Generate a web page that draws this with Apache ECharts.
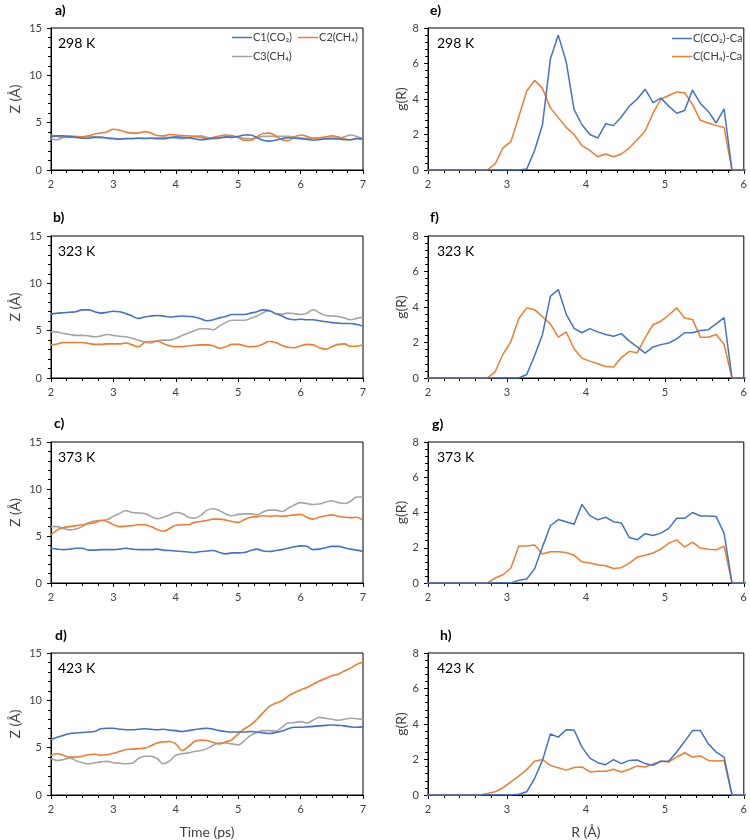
<!DOCTYPE html>
<html><head><meta charset="utf-8">
<script src="https://cdn.jsdelivr.net/npm/echarts@6/dist/echarts.min.js"></script>
<style>html,body{margin:0;padding:0;background:#fff}#c{width:750px;height:840px}</style>
</head><body><div id="c"></div>
<script>
// ---------- DATA ----------
const time = [2.0,2.1,2.2,2.3,2.4,2.5,2.6,2.7,2.8,2.9,3.0,3.1,3.2,3.3,3.4,3.5,3.6,3.7,3.8,3.9,4.0,4.1,4.2,4.3,4.4,4.5,4.6,4.7,4.8,4.9,5.0,5.1,5.2,5.3,5.4,5.5,5.6,5.7,5.8,5.9,6.0,6.1,6.2,6.3,6.4,6.5,6.6,6.7,6.8,6.9,7.0];
const R = [1.95,2.05,2.15,2.25,2.35,2.45,2.55,2.65,2.75,2.85,2.95,3.05,3.15,3.25,3.35,3.45,3.55,3.65,3.75,3.85,3.95,4.05,4.15,4.25,4.35,4.45,4.55,4.65,4.75,4.85,4.95,5.05,5.15,5.25,5.35,5.45,5.55,5.65,5.75,5.85,5.95,6.05];

const seriesNamesZ = ['C1(CO₂)','C2(CH₄)','C3(CH₄)'];
const seriesNamesG = ['C(CO₂)-Ca','C(CH₄)-Ca'];
const tempLabels = ['298 K','323 K','373 K','423 K'];
const panelLetters = ['a)','b)','c)','d)','e)','f)','g)','h)'];

// a) 298 K
const aBlue = [3.5,3.6,3.6,3.5,3.45,3.35,3.35,3.45,3.45,3.35,3.3,3.25,3.3,3.3,3.35,3.35,3.35,3.3,3.3,3.4,3.5,3.45,3.4,3.3,3.2,3.25,3.35,3.4,3.5,3.45,3.55,3.7,3.7,3.4,3.15,3.05,3.15,3.3,3.4,3.35,3.3,3.25,3.15,3.2,3.3,3.35,3.3,3.2,3.2,3.3,3.25];
const aOrange = [3.7,3.55,3.45,3.5,3.5,3.5,3.6,3.8,3.9,4.05,4.3,4.2,4.0,3.9,3.9,4.05,3.9,3.65,3.6,3.75,3.7,3.65,3.6,3.55,3.45,3.35,3.45,3.6,3.7,3.65,3.45,3.15,3.15,3.5,3.85,3.9,3.6,3.2,3.1,3.5,3.7,3.55,3.35,3.4,3.5,3.6,3.5,3.3,3.2,3.35,3.4];
const aGray = [3.3,3.2,3.45,3.6,3.55,3.5,3.55,3.5,3.45,3.4,3.35,3.3,3.35,3.35,3.35,3.3,3.35,3.4,3.45,3.45,3.35,3.3,3.4,3.55,3.6,3.45,3.3,3.35,3.45,3.5,3.45,3.35,3.3,3.45,3.55,3.55,3.55,3.55,3.55,3.5,3.4,3.35,3.35,3.4,3.3,3.25,3.3,3.5,3.7,3.55,3.3];
// b) 323 K
const bBlue = [6.75,6.85,6.9,6.95,7.0,7.2,7.2,7.0,6.85,6.95,7.05,7.0,6.8,6.55,6.3,6.45,6.55,6.6,6.55,6.45,6.5,6.55,6.5,6.45,6.25,6.05,6.15,6.35,6.5,6.7,6.7,6.7,6.85,7.0,7.2,7.1,6.8,6.55,6.25,6.15,6.2,6.15,6.15,6.05,5.95,5.85,5.8,5.75,5.75,5.65,5.5];
const bOrange = [3.5,3.6,3.75,3.75,3.75,3.75,3.65,3.55,3.55,3.6,3.6,3.6,3.7,3.5,3.3,3.75,3.85,3.9,3.65,3.4,3.3,3.3,3.4,3.45,3.5,3.5,3.4,3.15,3.3,3.55,3.55,3.4,3.3,3.35,3.6,3.85,3.75,3.45,3.25,3.2,3.4,3.55,3.5,3.2,3.05,3.3,3.55,3.6,3.35,3.35,3.5];
const bGray = [4.9,4.85,4.7,4.6,4.5,4.5,4.45,4.35,4.45,4.6,4.5,4.4,4.35,4.2,4.0,3.8,3.7,3.9,4.0,4.0,4.2,4.5,4.75,5.0,5.2,5.2,5.1,5.5,5.85,6.1,6.1,6.1,6.3,6.55,6.9,7.1,6.8,6.75,6.85,6.8,6.7,6.85,7.2,6.9,6.6,6.55,6.5,6.35,6.15,6.3,6.45];
// c) 373 K
const cBlue = [3.7,3.6,3.55,3.6,3.7,3.7,3.5,3.5,3.55,3.55,3.55,3.6,3.7,3.6,3.55,3.55,3.55,3.6,3.5,3.45,3.4,3.35,3.3,3.25,3.35,3.4,3.45,3.25,3.1,3.2,3.2,3.25,3.45,3.6,3.4,3.35,3.45,3.55,3.7,3.85,3.95,3.9,3.55,3.6,3.75,3.9,3.9,3.75,3.6,3.5,3.35];
const cOrange = [5.1,5.65,5.9,6.0,6.1,6.2,6.3,6.4,6.65,6.55,6.2,6.0,6.05,6.1,6.2,6.2,6.0,5.7,5.5,5.8,6.15,6.2,6.2,6.45,6.55,6.65,6.8,6.8,6.7,6.55,6.45,6.75,7.0,7.05,7.15,7.1,7.15,7.1,7.15,7.25,7.3,7.0,6.8,7.0,7.15,7.25,7.1,7.0,6.95,7.0,6.65];
const cGray = [6.0,6.0,5.8,5.65,5.75,6.0,6.4,6.6,6.65,6.75,7.1,7.4,7.7,7.5,7.45,7.4,7.1,6.85,7.0,7.25,7.5,7.4,7.0,6.9,7.2,7.75,7.9,7.7,7.35,7.15,7.3,7.35,7.35,7.25,7.55,7.75,7.75,7.6,7.95,8.3,8.55,8.45,8.35,8.4,8.6,8.75,8.55,8.45,8.7,9.15,9.15];
// d) 423 K
const dBlue = [5.85,6.1,6.3,6.5,6.55,6.6,6.65,6.7,7.0,7.05,7.05,6.95,6.9,6.9,6.95,7.0,6.95,6.9,6.95,6.85,6.8,6.7,6.8,6.9,7.0,7.05,6.95,6.8,6.7,6.65,6.65,6.65,6.7,6.65,6.55,6.5,6.6,6.75,7.0,7.15,7.15,7.2,7.25,7.3,7.35,7.4,7.35,7.3,7.2,7.15,7.2];
const dOrange = [4.2,4.35,4.2,4.0,4.0,4.1,4.25,4.3,4.2,4.25,4.4,4.6,4.8,4.85,4.9,4.95,5.2,5.5,5.6,5.65,5.4,4.7,5.1,5.65,5.8,5.75,5.55,5.4,5.6,5.85,6.45,7.0,7.4,8.0,8.7,9.35,9.7,9.95,10.45,10.8,11.1,11.35,11.7,12.05,12.3,12.6,12.75,13.1,13.4,13.8,14.05];
const dGray = [3.85,3.65,3.75,3.9,3.65,3.4,3.3,3.4,3.5,3.55,3.4,3.35,3.3,3.35,3.85,4.1,4.1,3.85,3.3,3.6,4.2,4.35,4.45,4.6,4.7,4.9,5.25,5.5,5.5,5.4,5.3,5.75,6.3,6.6,6.8,6.8,6.75,7.15,7.6,7.65,7.75,7.6,7.9,8.2,8.1,8.0,7.9,8.0,8.1,8.05,8.0];

// e) 298 K RDF
const eBlue = [0,0,0,0,0,0,0,0,0,0,0,0,0,0.05,1.1,2.55,6.25,7.6,6.1,3.4,2.55,2.0,1.8,2.6,2.5,3.0,3.6,4.0,4.55,3.8,4.05,3.6,3.2,3.35,4.5,3.75,3.3,2.65,3.45,0,0,0];
const eOrange = [0,0,0,0,0,0,0,0,0,0.35,1.25,1.6,3.0,4.45,5.05,4.6,3.5,2.95,2.4,2.0,1.37,1.1,0.75,0.9,0.75,0.9,1.25,1.7,2.2,3.2,4.0,4.2,4.4,4.35,3.7,2.8,2.65,2.5,2.4,0,0,0];
// f) 323 K RDF
const fBlue = [0,0,0,0,0,0,0,0,0,0,0,0,0,0.2,1.25,2.45,4.6,4.98,3.6,2.8,2.55,2.78,2.6,2.45,2.35,2.5,2.08,1.75,1.4,1.75,1.88,1.97,2.2,2.55,2.55,2.68,2.72,3.05,3.4,0,0,0];
const fOrange = [0,0,0,0,0,0,0,0,0,0.35,1.35,2.05,3.35,3.95,3.85,3.45,3.05,2.3,2.6,1.65,1.12,0.95,0.8,0.65,0.62,1.15,1.5,1.42,2.27,3.0,3.2,3.55,3.95,3.38,3.3,2.3,2.3,2.45,1.9,0,0,0];
// g) 373 K RDF
const gBlue = [0,0,0,0,0,0,0,0,0,0,0,0,0.15,0.23,0.8,2.05,3.25,3.6,3.48,3.33,4.46,3.82,3.58,3.73,3.48,3.4,2.58,2.45,2.8,2.7,2.83,3.1,3.67,3.67,4.0,3.8,3.8,3.77,2.83,0,0,0];
const gOrange = [0,0,0,0,0,0,0,0,0,0.28,0.47,0.85,2.1,2.1,2.15,1.65,1.77,1.77,1.73,1.57,1.2,1.13,1.03,0.98,0.82,0.87,1.13,1.47,1.57,1.7,1.92,2.26,2.45,2.03,2.32,1.98,1.92,1.88,2.09,0,0,0];
// h) 423 K RDF
const hBlue = [0,0,0,0,0,0,0,0,0,0,0,0,0.04,0.18,0.93,1.95,3.44,3.26,3.68,3.66,2.7,2.08,1.82,1.71,1.99,1.77,1.95,1.97,1.77,1.67,1.9,1.9,2.42,3.01,3.63,3.63,2.88,2.42,2.14,0,0,0];
const hOrange = [0,0,0,0,0,0,0,0,0.08,0.18,0.41,0.74,1.06,1.43,1.9,2.0,1.67,1.53,1.4,1.55,1.58,1.3,1.34,1.34,1.45,1.3,1.45,1.64,1.58,1.75,1.9,1.86,2.14,2.38,2.14,2.2,1.95,1.92,1.95,0,0,0];

// ---------- CHART ----------
const BLUE='#4472C4', ORANGE='#ED7D31', GRAY='#A5A5A5';
const FONT='Lato, "Open Sans", sans-serif';
const TXT='#404040';
const rowsTop=[28,236,442,653], rowsH=[142,142,141,144];
const leftG={left:51,width:312}, rightG={left:428,width:318};

const zSets=[[aBlue,aOrange,aGray],[bBlue,bOrange,bGray],[cBlue,cOrange,cGray],[dBlue,dOrange,dGray]];
const gSets=[[eBlue,eOrange],[fBlue,fOrange],[gBlue,gOrange],[hBlue,hOrange]];

const grid=[],xAxis=[],yAxis=[],series=[],graphic=[];
function axisCommon(){
  return {
    axisLine:{show:true,onZero:false,lineStyle:{color:'#000',width:1}},
    axisTick:{show:true,inside:false,length:4,lineStyle:{color:'#000'}},
    minorTick:{show:true,length:3,lineStyle:{color:'#000'}},
    splitLine:{show:false},
    axisLabel:{color:TXT,fontSize:11,fontFamily:FONT}
  };
}
for(let r=0;r<4;r++){
  // left panel
  let gi=grid.length;
  grid.push({left:leftG.left,width:leftG.width,top:rowsTop[r],height:rowsH[r],show:true,borderColor:'#000',borderWidth:1,backgroundColor:'transparent'});
  let xa=Object.assign(axisCommon(),{type:'value',gridIndex:gi,min:2,max:7,interval:1});
  xa.minorTick.splitNumber=4; xa.axisLabel.margin=9;
  if(r===3){xa.name='Time (ps)';xa.nameLocation='middle';xa.nameGap=30;xa.nameTextStyle={fontSize:14,color:TXT,fontFamily:FONT};}
  xAxis.push(xa);
  let ya=Object.assign(axisCommon(),{type:'value',gridIndex:gi,min:0,max:15,interval:5,name:'Z (Å)',nameLocation:'middle',nameGap:29,nameTextStyle:{fontSize:14,color:TXT,fontFamily:FONT}});
  ya.minorTick.splitNumber=5; ya.axisLabel.margin=9;
  yAxis.push(ya);
  const cols=[BLUE,ORANGE,GRAY];
  const order=[2,1,0];
  order.forEach(k=>{
    series.push({type:'line',name:seriesNamesZ[k],xAxisIndex:gi,yAxisIndex:gi,showSymbol:false,symbol:'none',smooth:0.4,
      lineStyle:{color:cols[k],width:1.6},itemStyle:{color:cols[k]},z:3-k,
      data:time.map((t,i)=>[t,zSets[r][k][i]])});
  });
  // right panel
  gi=grid.length;
  grid.push({left:rightG.left,width:rightG.width,top:rowsTop[r],height:rowsH[r],show:true,borderColor:'#000',borderWidth:1,backgroundColor:'transparent'});
  xa=Object.assign(axisCommon(),{type:'value',gridIndex:gi,min:2,max:6,interval:1});
  xa.minorTick.splitNumber=5; xa.axisLabel.margin=9;
  if(r===3){xa.name='R (Å)';xa.nameLocation='middle';xa.nameGap=30;xa.nameTextStyle={fontSize:14,color:TXT,fontFamily:FONT};}
  xAxis.push(xa);
  ya=Object.assign(axisCommon(),{type:'value',gridIndex:gi,min:0,max:8,interval:2,name:'g(R)',nameLocation:'middle',nameGap:20,nameTextStyle:{fontSize:14,color:TXT,fontFamily:FONT}});
  ya.minorTick.splitNumber=5; ya.axisLabel.margin=9;
  yAxis.push(ya);
  const cols2=[BLUE,ORANGE];
  [1,0].forEach(k=>{
    series.push({type:'line',name:seriesNamesG[k],xAxisIndex:gi,yAxisIndex:gi,showSymbol:false,symbol:'none',clip:true,
      lineStyle:{color:cols2[k],width:1.5},itemStyle:{color:cols2[k]},z:3-k,
      data:R.map((x,i)=>[x,gSets[r][k][i]])});
  });
  // temperature labels
  graphic.push({type:'text',left:58,top:rowsTop[r]+8,style:{text:tempLabels[r],fontSize:14,fill:'#000',fontFamily:FONT}});
  graphic.push({type:'text',left:437,top:rowsTop[r]+8,style:{text:tempLabels[r],fontSize:14,fill:'#000',fontFamily:FONT}});
}
const letterPos=[[55,3],[53,210],[54,416],[55,628],[430,3],[430,210],[432,417],[440,628]];
panelLetters.forEach((t,i)=>{
  graphic.push({type:'text',left:letterPos[i][0],top:letterPos[i][1],style:{text:t,fontSize:14,fontWeight:'bold',fill:'#000',fontFamily:FONT}});
});

const legendBase={icon:'rect',itemWidth:20,itemHeight:1.5,selectedMode:false,textStyle:{fontSize:11,color:TXT,fontFamily:FONT,padding:[0,0,0,-4]},padding:0};
const option={
  animation:false,
  backgroundColor:'#fff',
  grid,xAxis,yAxis,series,graphic,
  legend:[
    Object.assign({},legendBase,{left:232,top:32,itemGap:6,data:[seriesNamesZ[0],seriesNamesZ[1]]}),
    Object.assign({},legendBase,{left:232,top:51,data:[seriesNamesZ[2]]}),
    Object.assign({},legendBase,{left:672,top:33,orient:'vertical',itemGap:7,data:seriesNamesG})
  ]
};
const chart=echarts.init(document.getElementById('c'),null,{renderer:'canvas'});
chart.setOption(option);
</script></body></html>
